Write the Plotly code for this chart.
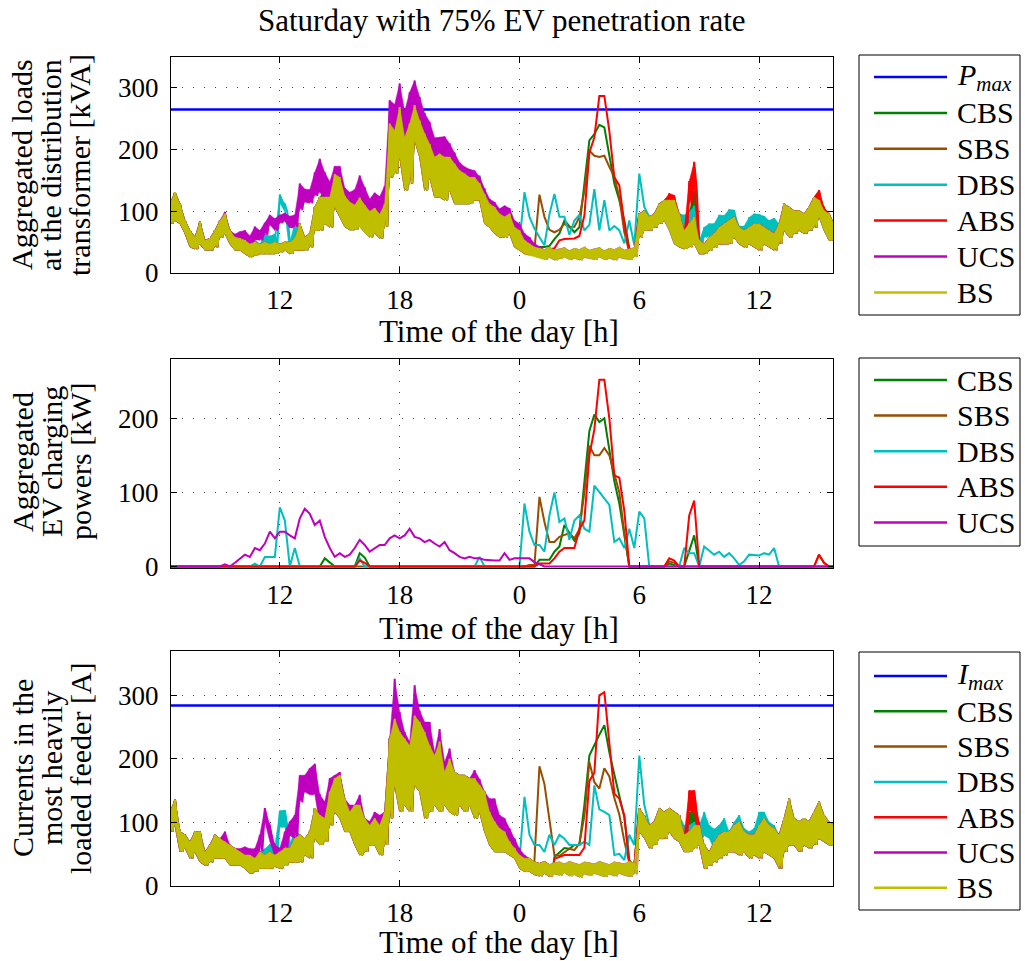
import numpy as np
import plotly.graph_objects as go

W, H = 1025, 961
T0, DT = 6.5, 0.25          # first sample [h] and sampling step [h]

# ---------------- data ----------------
# Base (no EV) transformer load, upper / lower envelope of the 15-min band [kVA]
BS_LOAD_HI = [112, 131,
              112, 85, 69, 58,   83, 53, 56, 69,   85, 96, 69, 58,   56, 53, 47, 50,
              47, 50, 47, 50,    47, 50, 50, 56,   80, 58, 64, 107,  123, 123, 123, 160,
              155, 125, 115, 110, 122, 110, 100, 105, 95, 112, 242, 231, 269, 220, 242, 272,
              247, 226, 209, 188, 193, 188, 188, 177, 166, 161, 155, 155, 145, 128, 112, 107,
              96, 91, 96, 74,    69, 53, 47, 42,   40, 38, 42, 37,   39, 41, 36, 40,
              38, 42, 37, 39,    41, 36, 40, 38,   42, 37, 39, 41,   96, 101, 91, 96,
              112, 118, 118, 118, 96, 69, 80, 91,  53, 47, 58, 64,   74, 80, 85, 91,
              74, 69, 74, 80,    80, 74, 69, 64,   80, 112, 107, 101, 101, 96, 107, 123,
              118, 101, 96, 80]
BS_LOAD_LO = [80, 85,
              80, 64, 42, 39,    47, 37, 37, 42,   58, 64, 47, 37,   37, 31, 26, 29,
              31, 31, 31, 31,    34, 37, 31, 37,   37, 37, 42, 69,   69, 80, 74, 107,
              91, 75, 70, 70,    75, 65, 58, 65,   56, 75, 155, 161, 188, 134, 145, 215,
              188, 134, 155, 123, 123, 118, 134, 112, 112, 112, 112, 118, 118, 80, 74, 64,
              58, 58, 64, 42,    37, 31, 29, 26,   24, 22, 25, 21,   23, 26, 22, 24,
              21, 25, 23, 22,    26, 22, 24, 21,   25, 23, 22, 26,   58, 69, 69, 74,
              80, 85, 69, 47,    42, 39, 42, 47,   31, 31, 37, 42,   47, 47, 47, 58,
              47, 42, 47, 42,    37, 47, 42, 37,   47, 69, 58, 64,   69, 64, 69, 74,
              91, 69, 53, 53]

# Base current in the most heavily loaded feeder, upper / lower envelope [A]
BS_CUR_HI = [116, 135,
             85, 80, 69, 85,    85, 53, 64, 80,   74, 69, 64, 59,   53, 48, 48, 43,
             53, 48, 53, 48,    53, 59, 59, 74,   80, 74, 85, 122,  111, 106, 148, 169,
             174, 137, 116, 127, 127, 106, 95, 106, 95, 116, 232, 263, 242, 232, 221, 268,
             258, 242, 221, 205, 227, 179, 200, 179, 174, 174, 169, 169, 158, 148, 116, 101,
             90, 85, 69, 59,    48, 43, 43, 37,   35, 38, 33, 36,   37, 34, 38, 35,
             33, 37, 36, 34,    38, 35, 33, 37,   36, 34, 38, 35,   122, 110, 95, 101,
             122, 116, 122, 116, 111, 80, 85, 95, 95, 64, 53, 69,   80, 85, 85, 95,
             101, 85, 80, 80,   95, 106, 95, 90,  80, 106, 137, 106, 101, 106, 101, 116,
             132, 111, 101, 95]
BS_CUR_LO = [85, 95,
             53, 59, 43, 53,    37, 32, 37, 43,   43, 43, 32, 32,   32, 27, 19, 22,
             27, 27, 27, 30,    27, 32, 37, 37,   37, 48, 43, 74,   64, 69, 95, 116,
             106, 85, 85, 64,   48, 53, 64, 64,   48, 64, 106, 158, 116, 127, 116, 158,
             148, 106, 116, 127, 116, 127, 116, 111, 127, 116, 127, 106, 116, 85, 64, 53,
             53, 53, 48, 43,    27, 22, 22, 17,   15, 19, 14, 18,   16, 20, 15, 17,
             13, 18, 16, 19,    17, 14, 18, 15,   19, 16, 14, 18,   85, 75, 59, 64,
             74, 74, 85, 74,    69, 53, 53, 59,   64, 27, 32, 37,   43, 48, 53, 53,
             48, 53, 43, 48,    43, 53, 48, 43,   27, 53, 64, 64,   53, 64, 59, 64,
             74, 69, 64, 64]

# Aggregated EV charging power per strategy [kW]: (start hour, 15-min values)
EV_CBS = [(14.25, [11, 5, 0]), (16.0, [18, 12, 0]),
          (25.0, [9, 9, 9, 20, 27, 56, 45, 35, 45, 115, 183, 205, 195, 200, 158, 115, 85, 45, 0]),
          (31.5, [4, 2, 0]), (32.5, [20, 42, 0])]
EV_SBS = [(24.5, [2, 2, 94, 60, 33, 33, 40, 42, 45, 38, 50, 100, 163, 150, 150, 160, 150, 125, 100, 45, 0]),
          (31.5, [7, 5, 0]), (38.75, [0, 16, 5, 0])]
EV_DBS = [(10.75, [4, 0, 13, 13, 13, 80, 62, 0, 25, 0]), (16.0, [11, 0]), (22.0, [13, 0]),
          (24.25, [85, 47, 29, 29, 20, 69, 100, 60, 65, 36, 62, 69, 51, 47, 109, 100, 92, 83,
                   33, 38, 25, 51, 25, 74, 65, 0]),
          (32.25, [25, 18, 18, 0, 27, 22, 16, 20, 13, 18, 11, 2, 7, 16, 16, 15, 18, 16, 25, 0])]
EV_ABS = [(16.0, [8, 5, 0]),
          (25.0, [4, 4, 4, 11, 20, 25, 25, 25, 50, 62, 150, 185, 252, 252, 200, 123, 120, 75, 0]),
          (31.5, [11, 8, 0]), (32.5, [69, 89, 0]), (39.0, [16, 5, 0])]
EV_UCS = [(9.0, [0, 3, 0, 5, 11, 16, 13, 25, 22, 31, 47, 38, 47, 47, 42, 38, 65, 78, 71, 56,
                 62, 40, 25, 13, 18, 13, 16, 25, 36, 29, 20, 25, 29, 29, 38, 42, 38, 42, 51, 40,
                 38, 33, 36, 31, 27, 33, 22, 18, 13, 11, 13, 11, 11, 9, 8, 8, 8, 18, 9, 11,
                 11, 11, 11, 6, 3, 0])]

# Night-time transformer load for the smart strategies [kVA]
LOAD_CBS_NIGHT = (24.75, [36, 42, 42, 44, 55, 64, 85, 75, 66, 74, 148, 215, 225, 240, 236, 188,
                          145, 118, 85, 40, 33])
LOAD_SBS_NIGHT = (24.5, [38, 38, 127, 91, 70, 66, 70, 80, 74, 75, 90, 133, 198, 190, 188, 190,
                         172, 156, 123, 66, 34, 32])
LOAD_DBS_NIGHT = (24.0, [50, 131, 91, 72, 58, 45, 95, 128, 91, 91, 62, 85, 94, 69, 78, 136,
                         69, 118, 69, 76, 69, 48, 85, 45, 161, 107])
LOAD_ABS_NIGHT = (24.75, [34, 35, 37, 38, 40, 53, 55, 56, 56, 60, 93, 195, 220, 287, 287, 230,
                          155, 142, 80, 36, 33])

# Night-time feeder current for the smart strategies [A]
CUR_CBS_NIGHT = (25.75, [45, 52, 59, 58, 64, 64, 127, 205, 222, 238, 253, 210, 175, 140, 108, 40, 30])
CUR_SBS_NIGHT = (24.75, [40, 188, 160, 100, 48, 47, 52, 58, 56, 66, 110, 195, 163, 153, 185, 172,
                         138, 112, 70, 36, 30])
CUR_DBS_NIGHT = (24.0, [40, 140, 80, 64, 64, 53, 80, 64, 80, 74, 64, 64, 64, 69, 64, 158, 120,
                        116, 111, 48, 50, 40, 80, 64, 205, 127])
CUR_ABS_NIGHT = (25.75, [42, 45, 48, 48, 48, 48, 60, 165, 178, 300, 305, 225, 145, 137, 110, 36, 30])

# Daytime feeder current added by EV charging [A]
CUR_CBS_EXTRA = [(32.5, [30, 25, 0])]
CUR_SBS_EXTRA = []
CUR_DBS_EXTRA = [(11.25, [10, 12, 15, 65, 60, 5, 15, 0]),
                 (32.25, [15, 10, 5, 0, 52, 42, 20, 15, 21, 0, 5, 10, 5, 5, 10, 21, 10, 5, 5, 0])]
CUR_ABS_EXTRA = [(32.5, [65, 55, 0])]
CUR_UCS_EXTRA = [(9.25, [16, 0, 0, 5, 13, 10, 15, 27, 74, 42, 16, 6, 26, 42, 37, 94, 100, 100, 70, 32,
                         26, 21, 5, 5, 0, 11, 0, 16, 0, 6, 10, 16, 0, 0, 63, 32, 10, 6, 48, 18,
                         16, 37, 5, 20, 16, 16, 0, 0, 0, 0, 13, 10, 0, 21, 36, 21, 21, 21, 15, 10,
                         5, 0])]

P_MAX = 265   # transformer rating [kVA]
I_MAX = 284   # feeder ampacity [A]

X_TICKS = [12, 18, 24, 30, 36]
X_LABELS = ["12", "18", "0", "6", "12"]
X_RANGE = [6.55, 39.7]

STRATEGIES = ["CBS", "SBS", "DBS", "ABS", "UCS"]
COLORS = {"CBS": "#008000", "SBS": "#994d00", "DBS": "#00bfbf", "ABS": "#ff0000",
          "UCS": "#bf00bf", "BS": "#bfbf00", "MAX": "#0000ff"}

# ---------------- helpers ----------------
n = len(BS_LOAD_HI)
t = T0 + DT * np.arange(n)


def idx(hour):
    return int(round((hour - T0) / DT))


def from_windows(windows):
    out = np.zeros(n)
    for start, vals in windows:
        i0 = idx(start)
        out[i0:i0 + len(vals)] = vals
    return out


def override_map(override):
    if override is None:
        return {}
    start, vals = override
    return {idx(start) + k: v for k, v in enumerate(vals)}


def band_line(hi, lo, add, ov):
    """Zig-zag through the band envelope; explicit values inside the override window."""
    xs, ys = [], []
    for i in range(n):
        if i in ov:
            xs.append(t[i]); ys.append(ov[i])
        else:
            xs += [t[i], t[i] + DT / 2]
            ys += [hi[i] + add[i], lo[i] + add[i]]
    return xs, ys


def band_fill(hi, lo, add, ov):
    """Closed polygons covering the band outside the override window."""
    runs, cur = [], []
    for i in range(n):
        if i in ov:
            if cur:
                runs.append(cur); cur = []
        else:
            cur.append(i)
    if cur:
        runs.append(cur)
    xs, ys = [], []
    for r in runs:
        r = np.array(r)
        xs += list(t[r]) + list(t[r][::-1]) + [t[r[0]], None]
        ys += list(hi[r] + add[r]) + list((lo[r] + add[r])[::-1]) + [hi[r[0]] + add[r[0]], None]
    return xs, ys


EV = {"CBS": from_windows(EV_CBS), "SBS": from_windows(EV_SBS), "DBS": from_windows(EV_DBS),
      "ABS": from_windows(EV_ABS), "UCS": from_windows(EV_UCS)}
LOAD_NIGHT = {"CBS": LOAD_CBS_NIGHT, "SBS": LOAD_SBS_NIGHT, "DBS": LOAD_DBS_NIGHT,
              "ABS": LOAD_ABS_NIGHT, "UCS": None}
CUR_NIGHT = {"CBS": CUR_CBS_NIGHT, "SBS": CUR_SBS_NIGHT, "DBS": CUR_DBS_NIGHT,
             "ABS": CUR_ABS_NIGHT, "UCS": None}
CUR_EXTRA = {"CBS": from_windows(CUR_CBS_EXTRA), "SBS": from_windows(CUR_SBS_EXTRA),
             "DBS": from_windows(CUR_DBS_EXTRA), "ABS": from_windows(CUR_ABS_EXTRA),
             "UCS": from_windows(CUR_UCS_EXTRA)}

bs_load_hi, bs_load_lo = np.array(BS_LOAD_HI, float), np.array(BS_LOAD_LO, float)
bs_cur_hi, bs_cur_lo = np.array(BS_CUR_HI, float), np.array(BS_CUR_LO, float)
ZERO = np.zeros(n)

fig = go.Figure()
LW = 2


def line(xs, ys, color, ax, width=LW):
    fig.add_trace(go.Scatter(x=xs, y=ys, mode="lines", line=dict(color=color, width=width),
                             xaxis="x" + ax, yaxis="y" + ax, showlegend=False,
                             hoverinfo="skip"))


def band(hi, lo, add, override, color, ax):
    ov = override_map(override)
    fx, fy = band_fill(hi, lo, add, ov)
    fig.add_trace(go.Scatter(x=fx, y=fy, mode="lines", fill="toself", fillcolor=color,
                             line=dict(color=color, width=0.5), xaxis="x" + ax, yaxis="y" + ax,
                             showlegend=False, hoverinfo="skip"))
    xs, ys = band_line(hi, lo, add, ov)
    line(xs, ys, color, ax)


# Panel 1: transformer load
line([t[0], t[-1]], [P_MAX, P_MAX], COLORS["MAX"], "", 2.5)
for s in STRATEGIES:
    band(bs_load_hi, bs_load_lo, EV[s], LOAD_NIGHT[s], COLORS[s], "")
band(bs_load_hi, bs_load_lo, ZERO, None, COLORS["BS"], "")

# Panel 2: EV charging power
for s in STRATEGIES:
    line(t, EV[s], COLORS[s], "2")

# Panel 3: feeder current
line([t[0], t[-1]], [I_MAX, I_MAX], COLORS["MAX"], "3", 2.5)
for s in STRATEGIES:
    band(bs_cur_hi, bs_cur_lo, CUR_EXTRA[s], CUR_NIGHT[s], COLORS[s], "3")
band(bs_cur_hi, bs_cur_lo, ZERO, None, COLORS["BS"], "3")

# ---------------- layout ----------------
FONT = "Liberation Serif"
FS_TICK = 27
FS_TEXT = 30
X0, X1 = 171, 833
PANELS = [(57, 273, [0, 350], [0, 100, 200, 300]),
          (359, 568, [-2, 280], [0, 100, 200]),
          (651, 885.5, [0, 370], [0, 100, 200, 300])]

axis_common = dict(showline=True, linecolor="black", linewidth=1, mirror="ticks",
                   ticks="inside", ticklen=6, tickcolor="black", tickwidth=1,
                   showgrid=True, gridcolor="#444444", gridwidth=1, griddash="1px,10px",
                   zeroline=False, automargin=False,
                   tickfont=dict(family=FONT, size=FS_TICK, color="black"))

layout = dict(width=W, height=H, margin=dict(l=0, r=0, t=0, b=0, pad=0, autoexpand=False),
              autosize=False, paper_bgcolor="white", plot_bgcolor="white", showlegend=False)
for k, (top, bot, yr, yt) in enumerate(PANELS):
    sfx = "" if k == 0 else str(k + 1)
    layout["xaxis" + sfx] = dict(axis_common, domain=[X0 / W, X1 / W], range=X_RANGE,
                                 tickvals=X_TICKS, ticktext=X_LABELS,
                                 anchor="y" + sfx, ticklabelstandoff=3)
    layout["yaxis" + sfx] = dict(axis_common, domain=[1 - bot / H, 1 - top / H], range=yr,
                                 tickvals=yt, anchor="x" + sfx, ticklabelstandoff=6)
fig.update_layout(**layout)


def px(x):
    return x / W


def py(y):
    return 1 - y / H


def text(x, y, s, xanchor="center", angle=0, size=FS_TEXT):
    fig.add_annotation(x=px(x), y=py(y), xref="paper", yref="paper", text=s,
                       showarrow=False, xanchor=xanchor, yanchor="middle", textangle=angle,
                       font=dict(family=FONT, size=size, color="black"))


text(502, 20, "Saturday with 75% EV penetration rate", size=31)
for yc in (331, 628, 942):
    text(499, yc, "Time of the day [h]", size=31)

YLABELS = [(165, ["Aggregated loads", "at the distribution", "transformer [kVA]"]),
           (462, ["Aggregated", "EV charging", "powers [kW]"]),
           (768, ["Currents in the", "most heavily", "loaded feeder [A]"])]
for yc, lines in YLABELS:
    for xc, s in zip((22, 51, 80), lines):
        text(xc, yc, s, angle=-90)

# Legends drawn as boxes with sample lines
LEGENDS = [((55, 315), [("<i>P</i><sub><i>max</i></sub>", "MAX"), ("CBS", "CBS"), ("SBS", "SBS"),
                        ("DBS", "DBS"), ("ABS", "ABS"), ("UCS", "UCS"), ("BS", "BS")], 77, 35.9),
           ((358, 546), [("CBS", "CBS"), ("SBS", "SBS"), ("DBS", "DBS"), ("ABS", "ABS"),
                         ("UCS", "UCS")], 380, 35.6),
           ((652, 910), [("<i>I</i><sub><i>max</i></sub>", "MAX"), ("CBS", "CBS"), ("SBS", "SBS"),
                         ("DBS", "DBS"), ("ABS", "ABS"), ("UCS", "UCS"), ("BS", "BS")], 676, 35.3)]
for (btop, bbot), entries, y0, dy in LEGENDS:
    fig.add_shape(type="rect", xref="paper", yref="paper", x0=px(859), x1=px(1020),
                  y0=py(bbot), y1=py(btop), line=dict(color="black", width=1),
                  fillcolor="white", layer="above")
    for k, (label, key) in enumerate(entries):
        yy = y0 + k * dy
        fig.add_shape(type="line", xref="paper", yref="paper", x0=px(874), x1=px(947),
                      y0=py(yy), y1=py(yy), line=dict(color=COLORS[key], width=2.5),
                      layer="above")
        text(955, yy, label, xanchor="left")

fig.write_html("out.html")
